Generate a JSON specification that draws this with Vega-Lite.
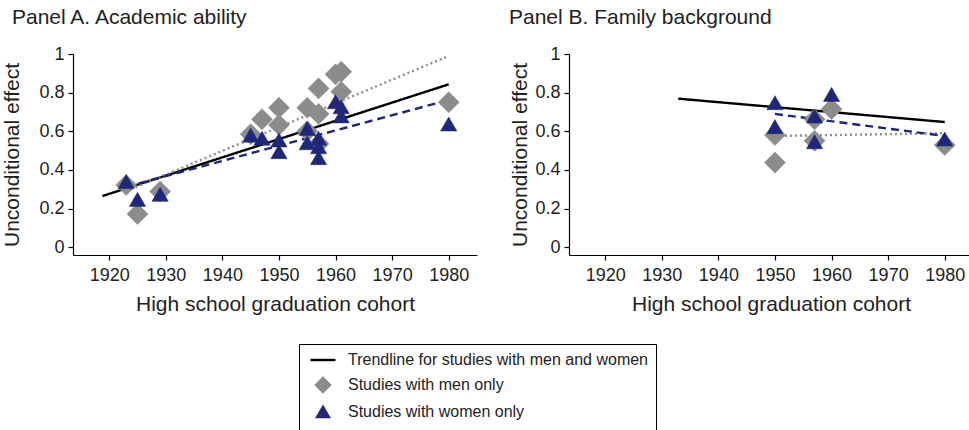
{
  "$schema": "https://vega.github.io/schema/vega-lite/v6.json",
  "padding": {"left": 1, "top": 7, "right": 0, "bottom": 0},
  "background": "white",
  "config": {
    "font": "Liberation Sans",
    "view": {"stroke": null},
    "axis": {
      "grid": false,
      "domainColor": "#000000",
      "domainWidth": 1.2,
      "tickColor": "#000000",
      "tickWidth": 1.2,
      "tickSize": 5,
      "labelFont": "Liberation Sans",
      "labelFontSize": 18,
      "labelColor": "#222222",
      "titleFont": "Liberation Sans",
      "titleFontSize": 21,
      "titleFontWeight": "normal",
      "titleColor": "#222222"
    },
    "legend": {
      "orient": "none",
      "direction": "vertical",
      "strokeColor": "#000000",
      "padding": 8,
      "labelFontSize": 16,
      "labelLimit": 0,
      "labelColor": "#222222",
      "labelFont": "Liberation Sans",
      "labelOffset": 17,
      "symbolOffset": 8,
      "symbolSize": 625,
      "symbolStrokeWidth": 2.4,
      "rowPadding": 5
    },
    "title": {"font": "Liberation Sans", "fontSize": 21, "fontWeight": "normal", "color": "#222222", "anchor": "start", "frame": "bounds"}
  },
  "datasets": {
    "points": [
      {"panel": "A", "group": "Studies with men only", "sample": "men", "year": 1923, "value": 0.322},
      {"panel": "A", "group": "Studies with men only", "sample": "men", "year": 1925, "value": 0.172},
      {"panel": "A", "group": "Studies with men only", "sample": "men", "year": 1929, "value": 0.288},
      {"panel": "A", "group": "Studies with men only", "sample": "men", "year": 1945, "value": 0.585},
      {"panel": "A", "group": "Studies with men only", "sample": "men", "year": 1947, "value": 0.662},
      {"panel": "A", "group": "Studies with men only", "sample": "men", "year": 1950, "value": 0.722},
      {"panel": "A", "group": "Studies with men only", "sample": "men", "year": 1950, "value": 0.633},
      {"panel": "A", "group": "Studies with men only", "sample": "men", "year": 1955, "value": 0.722},
      {"panel": "A", "group": "Studies with men only", "sample": "men", "year": 1955, "value": 0.6},
      {"panel": "A", "group": "Studies with men only", "sample": "men", "year": 1957, "value": 0.822},
      {"panel": "A", "group": "Studies with men only", "sample": "men", "year": 1957, "value": 0.69},
      {"panel": "A", "group": "Studies with men only", "sample": "men", "year": 1957, "value": 0.535},
      {"panel": "A", "group": "Studies with men only", "sample": "men", "year": 1960, "value": 0.895},
      {"panel": "A", "group": "Studies with men only", "sample": "men", "year": 1961, "value": 0.908},
      {"panel": "A", "group": "Studies with men only", "sample": "men", "year": 1961, "value": 0.805},
      {"panel": "A", "group": "Studies with men only", "sample": "men", "year": 1980, "value": 0.75},
      {"panel": "A", "group": "Studies with women only", "sample": "women", "year": 1923, "value": 0.34},
      {"panel": "A", "group": "Studies with women only", "sample": "women", "year": 1925, "value": 0.248},
      {"panel": "A", "group": "Studies with women only", "sample": "women", "year": 1929, "value": 0.274},
      {"panel": "A", "group": "Studies with women only", "sample": "women", "year": 1945, "value": 0.58},
      {"panel": "A", "group": "Studies with women only", "sample": "women", "year": 1947, "value": 0.564},
      {"panel": "A", "group": "Studies with women only", "sample": "women", "year": 1950, "value": 0.555},
      {"panel": "A", "group": "Studies with women only", "sample": "women", "year": 1950, "value": 0.495},
      {"panel": "A", "group": "Studies with women only", "sample": "women", "year": 1955, "value": 0.615},
      {"panel": "A", "group": "Studies with women only", "sample": "women", "year": 1955, "value": 0.541},
      {"panel": "A", "group": "Studies with women only", "sample": "women", "year": 1957, "value": 0.564},
      {"panel": "A", "group": "Studies with women only", "sample": "women", "year": 1957, "value": 0.52},
      {"panel": "A", "group": "Studies with women only", "sample": "women", "year": 1957, "value": 0.464},
      {"panel": "A", "group": "Studies with women only", "sample": "women", "year": 1960, "value": 0.753},
      {"panel": "A", "group": "Studies with women only", "sample": "women", "year": 1961, "value": 0.727},
      {"panel": "A", "group": "Studies with women only", "sample": "women", "year": 1961, "value": 0.68},
      {"panel": "A", "group": "Studies with women only", "sample": "women", "year": 1980, "value": 0.638},
      {"panel": "B", "group": "Studies with men only", "sample": "men", "year": 1950, "value": 0.581},
      {"panel": "B", "group": "Studies with men only", "sample": "men", "year": 1950, "value": 0.438},
      {"panel": "B", "group": "Studies with men only", "sample": "men", "year": 1957, "value": 0.662},
      {"panel": "B", "group": "Studies with men only", "sample": "men", "year": 1957, "value": 0.551},
      {"panel": "B", "group": "Studies with men only", "sample": "men", "year": 1960, "value": 0.715},
      {"panel": "B", "group": "Studies with men only", "sample": "men", "year": 1980, "value": 0.529},
      {"panel": "B", "group": "Studies with women only", "sample": "women", "year": 1950, "value": 0.748},
      {"panel": "B", "group": "Studies with women only", "sample": "women", "year": 1950, "value": 0.624},
      {"panel": "B", "group": "Studies with women only", "sample": "women", "year": 1957, "value": 0.679},
      {"panel": "B", "group": "Studies with women only", "sample": "women", "year": 1957, "value": 0.546},
      {"panel": "B", "group": "Studies with women only", "sample": "women", "year": 1960, "value": 0.791},
      {"panel": "B", "group": "Studies with women only", "sample": "women", "year": 1980, "value": 0.56}
    ],
    "lines": [
      {"panel": "A", "group": "Trendline for studies with men and women", "sample": "all", "year": 1918.8, "value": 0.265},
      {"panel": "A", "group": "Trendline for studies with men and women", "sample": "all", "year": 1980, "value": 0.843},
      {"panel": "A", "group": "Studies with men only", "sample": "men", "year": 1923, "value": 0.29},
      {"panel": "A", "group": "Studies with men only", "sample": "men", "year": 1980, "value": 0.99},
      {"panel": "A", "group": "Studies with women only", "sample": "women", "year": 1923, "value": 0.313},
      {"panel": "A", "group": "Studies with women only", "sample": "women", "year": 1980, "value": 0.762},
      {"panel": "B", "group": "Trendline for studies with men and women", "sample": "all", "year": 1932.9, "value": 0.769},
      {"panel": "B", "group": "Trendline for studies with men and women", "sample": "all", "year": 1980, "value": 0.648},
      {"panel": "B", "group": "Studies with men only", "sample": "men", "year": 1950, "value": 0.576},
      {"panel": "B", "group": "Studies with men only", "sample": "men", "year": 1980, "value": 0.59},
      {"panel": "B", "group": "Studies with women only", "sample": "women", "year": 1950, "value": 0.69},
      {"panel": "B", "group": "Studies with women only", "sample": "women", "year": 1980, "value": 0.576}
    ]
  },
  "hconcat": [
    {
      "title": {"text": "Panel A. Academic ability", "dx": 10, "offset": 17},
      "width": 404,
      "height": 201,
      "layer": [
        {
          "data": {"name": "lines"},
          "transform": [{"filter": "datum.panel === 'A'"}],
          "mark": {"type": "line", "strokeWidth": 2.4},
          "encoding": {
            "x": {"field": "year", "type": "quantitative", "scale": {"domain": [1913.6, 1985], "nice": false, "zero": false},
                  "axis": {"values": [1920, 1930, 1940, 1950, 1960, 1970, 1980], "format": "d", "title": "High school graduation cohort", "labelPadding": 6, "titlePadding": 9}},
            "y": {"field": "value", "type": "quantitative", "scale": {"domain": [-0.04, 1], "nice": false, "zero": false},
                  "axis": {"values": [0, 0.2, 0.4, 0.6, 0.8, 1], "format": "~g", "title": "Unconditional effect", "labelPadding": 4, "titlePadding": 16}},
            "stroke": {"field": "group", "type": "nominal", "scale": {"domain": ["Trendline for studies with men and women", "Studies with men only", "Studies with women only"], "range": ["#000000", "#8c8c8c", "#1f2878"]},
                       "legend": {"title": null, "orient": "none", "legendX": 226, "legendY": 290,
                                  "encode": {"symbols": {"update": {"size": {"signal": "datum.value === 'Trendline for studies with men and women' ? 625 : (datum.value === 'Studies with men only' ? 200 : 140)"}, "opacity": {"value": 1}}}}}},
            "strokeDash": {"field": "sample", "type": "nominal", "scale": {"domain": ["all", "men", "women"], "range": [[1, 0], [2, 3], [8, 5]]}, "legend": null}
          }
        },
        {
          "data": {"name": "points"},
          "transform": [{"filter": "datum.panel === 'A'"}],
          "mark": {"type": "point", "filled": true, "opacity": 1, "strokeWidth": 0.5},
          "encoding": {
            "x": {"field": "year", "type": "quantitative"},
            "y": {"field": "value", "type": "quantitative"},
            "shape": {"field": "group", "type": "nominal", "scale": {"domain": ["Trendline for studies with men and women", "Studies with men only", "Studies with women only"], "range": ["stroke", "diamond", "triangle-up"]},
                      "legend": {"title": null, "orient": "none", "legendX": 226, "legendY": 290,
                                 "encode": {"symbols": {"update": {"size": {"signal": "datum.value === 'Trendline for studies with men and women' ? 625 : (datum.value === 'Studies with men only' ? 200 : 140)"}, "opacity": {"value": 1}}}}}},
            "stroke": {"field": "group", "type": "nominal",
                       "legend": {"title": null, "orient": "none", "legendX": 226, "legendY": 290,
                                  "encode": {"symbols": {"update": {"size": {"signal": "datum.value === 'Trendline for studies with men and women' ? 625 : (datum.value === 'Studies with men only' ? 200 : 140)"}, "opacity": {"value": 1}}}}}},
            "color": {"field": "group", "type": "nominal", "scale": {"domain": ["Trendline for studies with men and women", "Studies with men only", "Studies with women only"], "range": ["#000000", "#8c8c8c", "#1f2878"]},
                      "legend": {"title": null, "orient": "none", "legendX": 226, "legendY": 290,
                                 "encode": {"symbols": {"update": {"size": {"signal": "datum.value === 'Trendline for studies with men and women' ? 625 : (datum.value === 'Studies with men only' ? 200 : 140)"}, "opacity": {"value": 1}}}}}},
            "size": {"field": "sample", "type": "nominal", "scale": {"domain": ["all", "men", "women"], "range": [625, 265, 185]}, "legend": null}
          }
        }
      ]
    },
    {
      "title": {"text": "Panel B. Family background", "dx": -1, "offset": 17},
      "width": 404,
      "height": 201,
      "layer": [
        {
          "data": {"name": "lines"},
          "transform": [{"filter": "datum.panel === 'B'"}],
          "mark": {"type": "line", "strokeWidth": 2.4},
          "encoding": {
            "x": {"field": "year", "type": "quantitative", "scale": {"domain": [1913.6, 1985], "nice": false, "zero": false},
                  "axis": {"values": [1920, 1930, 1940, 1950, 1960, 1970, 1980], "format": "d", "title": "High school graduation cohort", "labelPadding": 6, "titlePadding": 9}},
            "y": {"field": "value", "type": "quantitative", "scale": {"domain": [-0.04, 1], "nice": false, "zero": false},
                  "axis": {"values": [0, 0.2, 0.4, 0.6, 0.8, 1], "format": "~g", "title": "Unconditional effect", "labelPadding": 4, "titlePadding": 4}},
            "stroke": {"field": "group", "type": "nominal", "legend": null},
            "strokeDash": {"field": "sample", "type": "nominal", "legend": null}
          }
        },
        {
          "data": {"name": "points"},
          "transform": [{"filter": "datum.panel === 'B'"}],
          "mark": {"type": "point", "filled": true, "opacity": 1, "strokeWidth": 0.5},
          "encoding": {
            "x": {"field": "year", "type": "quantitative"},
            "y": {"field": "value", "type": "quantitative"},
            "shape": {"field": "group", "type": "nominal", "legend": null},
            "stroke": {"field": "group", "type": "nominal", "legend": null},
            "color": {"field": "group", "type": "nominal", "legend": null},
            "size": {"field": "sample", "type": "nominal", "legend": null}
          }
        }
      ]
    }
  ],
  "spacing": 31
}
